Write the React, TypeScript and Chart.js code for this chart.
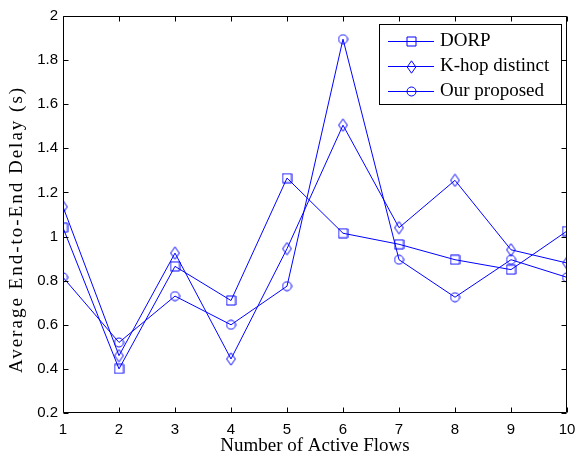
import React, { useEffect, useRef } from 'react';
import { Chart, registerables } from 'chart.js';

Chart.register(...registerables);

const flows = [1, 2, 3, 4, 5, 6, 7, 8, 9, 10];
const dorpDelay = [1.04, 0.4, 0.865, 0.71, 1.265, 1.015, 0.965, 0.895, 0.85, 1.025];
const khopDelay = [1.135, 0.46, 0.925, 0.445, 0.945, 1.505, 1.04, 1.255, 0.94, 0.88];
const oursDelay = [0.815, 0.52, 0.73, 0.6, 0.775, 1.895, 0.895, 0.725, 0.895, 0.815];
const seriesLabels = ['DORP', 'K-hop distinct', 'Our proposed'];
const yTickValues = [0.2, 0.4, 0.6, 0.8, 1, 1.2, 1.4, 1.6, 1.8, 2];
const xTickValues = flows;
const xTitle = 'Number of Active Flows';
const yTitle = 'Average End-to-End Delay (s)';

const BLUE = '#0000ff';
const SERIF = '"Liberation Serif", "Times New Roman", serif';
const SANS = '"Liberation Sans", Arial, sans-serif';

function makeMarker(kind: 'square' | 'diamond' | 'circle'): HTMLCanvasElement {
  const c = document.createElement('canvas');
  let w = 11, h = 11;
  if (kind === 'diamond') { w = 11; h = 14; }
  c.width = w; c.height = h;
  const ctx = c.getContext('2d')!;
  ctx.strokeStyle = BLUE;
  ctx.lineWidth = 1;
  ctx.beginPath();
  if (kind === 'square') {
    ctx.rect(1, 1, 9, 9);
  } else if (kind === 'diamond') {
    ctx.moveTo(w / 2, 0.8);
    ctx.lineTo(w - 1.2, h / 2);
    ctx.lineTo(w / 2, h - 0.8);
    ctx.lineTo(1.2, h / 2);
    ctx.closePath();
  } else {
    ctx.arc(w / 2, h / 2, 4.5, 0, Math.PI * 2);
  }
  ctx.stroke();
  return c;
}

export default function App() {
  const ref = useRef<HTMLCanvasElement | null>(null);

  useEffect(() => {
    const canvas = ref.current;
    if (!canvas) return;
    const markers = [makeMarker('square'), makeMarker('diamond'), makeMarker('circle')];
    const seriesData = [dorpDelay, khopDelay, oursDelay];

    const framePlugin = {
      id: 'frame',
      afterDatasetsDraw(chart: any) {
        const { ctx, chartArea: a, scales } = chart;
        ctx.save();
        ctx.strokeStyle = '#000';
        ctx.lineWidth = 1;
        const L = Math.round(a.left) + 0.5, R = Math.round(a.right) - 0.5;
        const T = Math.round(a.top) + 0.5, B = Math.round(a.bottom) - 0.5;
        ctx.beginPath();
        ctx.rect(L, T, R - L, B - T);
        ctx.stroke();
        const tl = 5;
        ctx.beginPath();
        xTickValues.forEach((v) => {
          const x = Math.round(scales.x.getPixelForValue(v)) + 0.5;
          ctx.moveTo(x, B); ctx.lineTo(x, B - tl);
          ctx.moveTo(x, T); ctx.lineTo(x, T + tl);
        });
        yTickValues.forEach((v) => {
          const y = Math.round(scales.y.getPixelForValue(v)) + 0.5;
          ctx.moveTo(L, y); ctx.lineTo(L + tl, y);
          ctx.moveTo(R, y); ctx.lineTo(R - tl, y);
        });
        ctx.stroke();

        // y title
        ctx.save();
        ctx.translate(17, (a.top + a.bottom) / 2 + 15);
        ctx.rotate(-Math.PI / 2);
        ctx.font = `19px ${SERIF}`;
        (ctx as any).letterSpacing = '2px';
        ctx.fillStyle = '#000';
        ctx.textAlign = 'center';
        ctx.textBaseline = 'middle';
        ctx.fillText(yTitle, 0, 0);
        ctx.restore();

        // legend
        const bx = 379.5, by = 24.5, bw = 182, bh = 80;
        ctx.fillStyle = '#fff';
        ctx.fillRect(bx, by, bw, bh);
        ctx.strokeStyle = '#000';
        ctx.strokeRect(bx, by, bw, bh);
        ctx.font = `19px ${SERIF}`;
        ctx.textAlign = 'left';
        ctx.textBaseline = 'middle';
        seriesLabels.forEach((lab, i) => {
          const y = 41.5 + i * 25;
          ctx.strokeStyle = BLUE;
          ctx.beginPath();
          ctx.moveTo(388, y); ctx.lineTo(434, y);
          ctx.stroke();
          const m = markers[i];
          ctx.drawImage(m, Math.round(411 - m.width / 2), Math.round(y - m.height / 2));
          ctx.fillStyle = '#000';
          ctx.fillText(lab, 440, y);
        });
        ctx.restore();
      },
    };

    const chart = new Chart(canvas, {
      type: 'line',
      data: {
        datasets: seriesLabels.map((lab, i) => ({
          label: lab,
          data: flows.map((f, j) => ({ x: f, y: seriesData[i][j] })),
          borderColor: BLUE,
          backgroundColor: 'transparent',
          borderWidth: 1,
          pointStyle: markers[i],
          pointRadius: 5,
          tension: 0,
          fill: false,
        })),
      },
      options: {
        animation: false,
        responsive: false,
        maintainAspectRatio: false,
        layout: { padding: { top: 16, right: 9, left: 0, bottom: 0 } },
        plugins: { legend: { display: false }, tooltip: { enabled: false }, title: { display: false } },
        scales: {
          x: {
            type: 'linear',
            min: 1,
            max: 10,
            grid: { display: false, drawTicks: false },
            border: { display: false },
            afterBuildTicks: (s: any) => { s.ticks = xTickValues.map((v) => ({ value: v })); },
            afterFit: (s: any) => { s.height = 48; s.paddingLeft = 0; s.paddingRight = 0; },
            ticks: {
              color: '#000',
              font: { family: SANS, size: 15 },
              padding: 8,
              maxRotation: 0,
              callback: (v: any) => String(v),
            },
            title: {
              display: true,
              text: xTitle,
              color: '#000',
              font: { family: SERIF, size: 19 },
              padding: { top: 0, bottom: 4 },
            },
          },
          y: {
            type: 'linear',
            min: 0.2,
            max: 2,
            grid: { display: false, drawTicks: false },
            border: { display: false },
            afterBuildTicks: (s: any) => { s.ticks = yTickValues.map((v) => ({ value: v })); },
            afterFit: (s: any) => { s.width = 63; s.paddingTop = 0; s.paddingBottom = 0; },
            ticks: {
              color: '#000',
              font: { family: SANS, size: 15 },
              padding: 5,
              callback: (v: any) => String(Number(Number(v).toFixed(1))),
            },
          },
        },
      },
      plugins: [framePlugin],
    } as any);

    return () => chart.destroy();
  }, []);

  return (
    <div style={{ position: 'fixed', left: 0, top: 0, width: 576, height: 461, background: '#fff' }}>
      <canvas ref={ref} width={576} height={461} style={{ width: 576, height: 461 }} />
    </div>
  );
}
